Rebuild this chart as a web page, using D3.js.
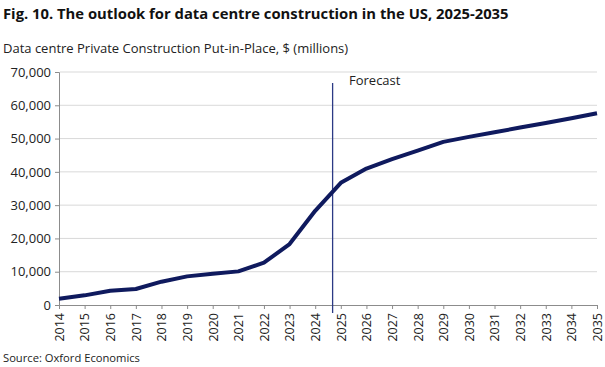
<!DOCTYPE html>
<html><head><meta charset="utf-8">
<script src="https://cdn.jsdelivr.net/npm/d3@7"></script>
<style>body{margin:0;background:#fff}svg{display:block}text{font-family:"Open Sans","Noto Sans",sans-serif}</style>
</head><body><svg id="c" width="605" height="367"></svg>
<script>
const years = [2014,2015,2016,2017,2018,2019,2020,2021,2022,2023,2024,2025,2026,2027,2028,2029,2030,2031,2032,2033,2034,2035];
const values = [1900,2900,4300,4800,7000,8600,9400,10100,12700,18300,28300,36700,41000,43800,46400,49000,50500,51900,53300,54700,56100,57600];
const yTicks = [0,10000,20000,30000,40000,50000,60000,70000];
const forecastAt = 2024.68;
const title = "Fig. 10. The outlook for data centre construction in the US, 2025-2035";
const subtitle = "Data centre Private Construction Put-in-Place, $ (millions)";
const source = "Source: Oxford Economics";

const svg = d3.select("#c");
const x = d3.scaleLinear().domain([2014,2035]).range([59,597]);
const y = d3.scaleLinear().domain([0,70000]).range([305,72]);

svg.append("text").attr("x",3).attr("y",19).attr("font-size",14.8).attr("font-weight","bold").attr("fill","#111").text(title);
svg.append("text").attr("x",3).attr("y",53).attr("font-size",13).attr("fill","#222").text(subtitle);

// gridlines
svg.append("g").selectAll("line").data(yTicks.filter(d=>d>0)).join("line")
  .attr("x1",60).attr("x2",597).attr("y1",d=>y(d)).attr("y2",d=>y(d))
  .attr("stroke","#d9d9d9").attr("stroke-width",1);

// y axis
const ya = svg.append("g").attr("transform","translate(59,0)")
  .call(d3.axisLeft(y).tickValues(yTicks).tickSize(4).tickPadding(4).tickFormat(d3.format(",")));
ya.select(".domain").attr("stroke","#8c8c8c");
ya.selectAll(".tick line").attr("stroke","#8c8c8c");
ya.selectAll("text").attr("font-size",13).attr("fill","#222").style("font-family",'"Open Sans","Noto Sans",sans-serif');

// x axis
const xa = svg.append("g").attr("transform","translate(0,305)")
  .call(d3.axisBottom(x).tickValues(years).tickSize(4).tickFormat(d3.format("d")));
xa.select(".domain").attr("stroke","#8c8c8c");
xa.selectAll(".tick line").attr("stroke","#8c8c8c");
xa.selectAll("text").attr("font-size",12.5).attr("fill","#222")
  .style("font-family",'"Open Sans","Noto Sans",sans-serif')
  .attr("transform","rotate(-90)").attr("text-anchor","end").attr("x",-8).attr("y",0).attr("dy","0.35em");

// forecast line
svg.append("line").attr("x1",x(forecastAt)).attr("x2",x(forecastAt)).attr("y1",83).attr("y2",313)
  .attr("stroke","#2c3a85").attr("stroke-width",1.3);
svg.append("text").attr("x",349).attr("y",85).attr("font-size",13).attr("fill","#222").text("Forecast");

// line
svg.append("path").datum(years.map((yr,i)=>[yr,values[i]]))
  .attr("fill","none").attr("stroke","#0f1a5e").attr("stroke-width",4).attr("stroke-linejoin","round")
  .attr("d",d3.line().x(d=>x(d[0])).y(d=>y(d[1])));

svg.append("text").attr("x",3).attr("y",362).attr("font-size",11.2).attr("fill","#222").text(source);
</script></body></html>
